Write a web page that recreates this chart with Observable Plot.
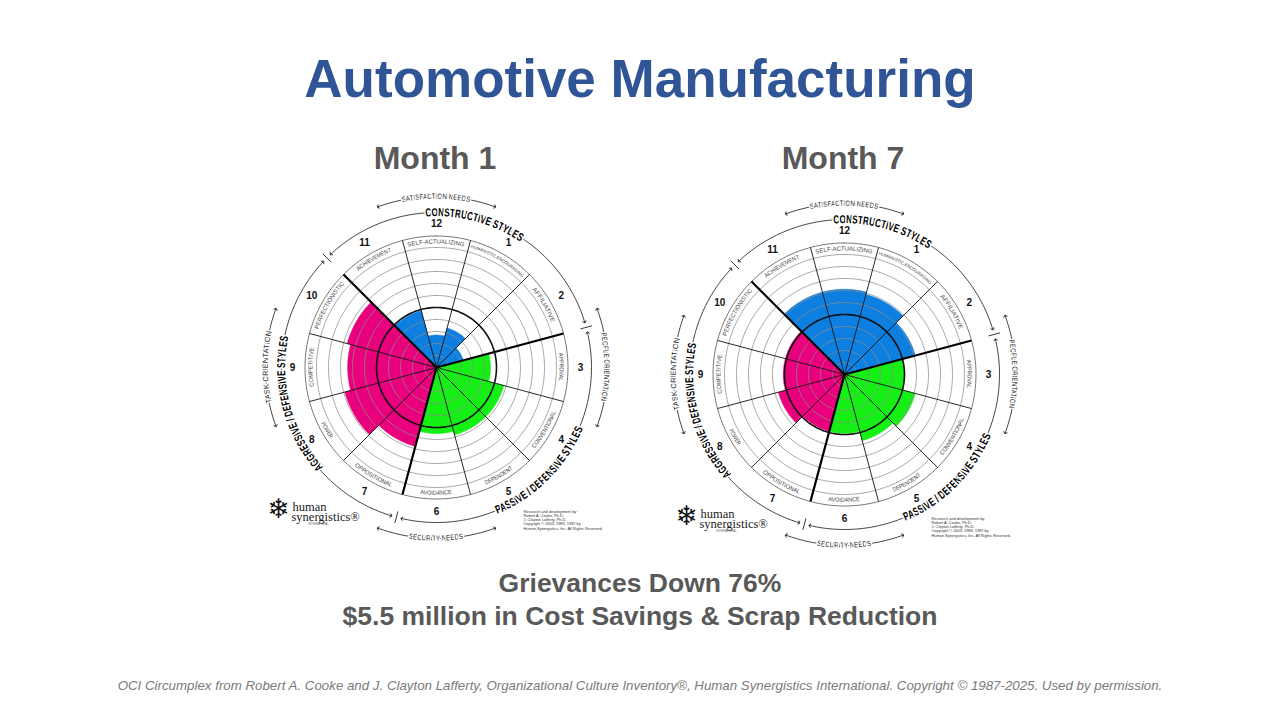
<!DOCTYPE html>
<html>
<head>
<meta charset="utf-8">
<script src="https://cdn.jsdelivr.net/npm/d3@7"></script>
<script src="https://cdn.jsdelivr.net/npm/@observablehq/plot@0.6"></script>
<style>
  html, body { margin: 0; padding: 0; background: #fff; }
  body { width: 1280px; height: 720px; position: relative; overflow: hidden; font-family: "Liberation Sans", Arial, sans-serif; }
  .t { position: absolute; white-space: nowrap; text-align: center; line-height: 1; }
  #title { left: 0; width: 1280px; top: 52px; font-size: 53px; font-weight: bold; color: #2F5597; }
  .month { width: 400px; top: 142px; font-size: 32px; font-weight: bold; color: #595959; }
  .cap { left: 0; width: 1280px; font-size: 26.5px; font-weight: bold; color: #595959; }
  #foot { left: 0; width: 1280px; top: 679px; font-size: 13.3px; font-style: italic; color: #7a7a7a; }
  #chart { position: absolute; left: 0; top: 180px; }
</style>
</head>
<body>
<div id="title" class="t">Automotive Manufacturing</div>
<div id="m1" class="t month" style="left:235px">Month 1</div>
<div id="m7" class="t month" style="left:643px">Month 7</div>
<div id="chart"></div>
<div id="cap1" class="t cap" style="top:570px">Grievances Down 76%</div>
<div id="cap2" class="t cap" style="top:603px">$5.5 million in Cost Savings &amp; Scrap Reduction</div>
<div id="foot" class="t">OCI Circumplex from Robert A. Cooke and J. Clayton Lafferty, Organizational Culture Inventory®, Human Synergistics International. Copyright © 1987-2025. Used by permission.</div>
<script>
// ---------------- DATA ----------------
const panels = ["Month 1", "Month 7"];
const styleNumbers = [1, 2, 3, 4, 5, 6, 7, 8, 9, 10, 11, 12];
const styleLabels = ["HUMANISTIC-ENCOURAGING", "AFFILIATIVE", "APPROVAL", "CONVENTIONAL", "DEPENDENT", "AVOIDANCE",
  "OPPOSITIONAL", "POWER", "COMPETITIVE", "PERFECTIONISTIC", "ACHIEVEMENT", "SELF-ACTUALIZING"];
const styleCluster = ["Constructive", "Constructive", "Passive/Defensive", "Passive/Defensive", "Passive/Defensive", "Passive/Defensive",
  "Aggressive/Defensive", "Aggressive/Defensive", "Aggressive/Defensive", "Aggressive/Defensive", "Constructive", "Constructive"];
// percentile scores per style (order of styleNumbers)
const month1Percentiles = [34, 23, 45, 58, 58, 55, 68, 79, 74, 77, 49, 27];
const month7Percentiles = [69, 61, 50, 61, 57, 49, 49, 57, 51, 51, 71, 71];
const ringPercentiles = [10, 20, 30, 40, 50, 60, 70, 80, 90, 99];
const clusterNames = ["Constructive", "Passive/Defensive", "Aggressive/Defensive"];
const clusterLabels = ["CONSTRUCTIVE STYLES", "PASSIVE / DEFENSIVE STYLES", "AGGRESSIVE / DEFENSIVE STYLES"];
const needsLabels = ["SATISFACTION NEEDS", "PEOPLE ORIENTATION", "SECURITY NEEDS", "TASK ORIENTATION"];
const copyrightLines = ["Research and development by:", "Robert A. Cooke, Ph.D.", "J. Clayton Lafferty, Ph.D.",
  "Copyright © 2003, 1989, 1987 by", "Human Synergistics, Inc. All Rights Reserved."];

// ---------------- LAYOUT ----------------
const W = 1280, TOP = 180, H = 385;
const centers = [{cx: 436, cy: 367}, {cx: 844, cy: 374}];
const clusterColors = {"Constructive": "#0d7fe0", "Passive/Defensive": "#16ef16", "Aggressive/Defensive": "#e8007d"};
const clusterCenterAngle = [15, 135, 255];
const clusterDir = ["cw", "ccw", "cw"];
const clusterTextLen = [100, 124, 140];
const needsAngle = [0, 90, 180, 270];
const needsDir = ["cw", "cw", "ccw", "cw"];
const needsTextLen = [68, 68, 55, 72];
const radius = d3.scaleLinear().domain([0, 90, 99]).range([0, 108, 120]);
const R_BAND_OUT = 131.5, R_NUM = 144, R_STYLE = 155, R_NEEDS = 171;

function polar(c, r, a) {
  const t = a * Math.PI / 180;
  return {x: c.cx + r * Math.sin(t), y: c.cy - r * Math.cos(t)};
}

// wedges
const wedgeRows = [];
panels.forEach((panel, pi) => {
  const vals = pi === 0 ? month1Percentiles : month7Percentiles;
  const c = centers[pi];
  styleNumbers.forEach((n, i) => {
    const r = radius(vals[i]);
    const key = panel + "-" + n, cluster = styleCluster[i];
    wedgeRows.push({key, cluster, x: c.cx, y: c.cy});
    for (let a = n * 30 - 15; a <= n * 30 + 15; a += 1) wedgeRows.push({key, cluster, ...polar(c, r, a)});
    wedgeRows.push({key, cluster, x: c.cx, y: c.cy});
  });
});

// rings
const ringRows = [];
panels.forEach((panel, pi) => {
  const c = centers[pi];
  ringPercentiles.forEach(p => {
    for (let a = 0; a <= 360; a += 2) ringRows.push({key: panel + p, p, ...polar(c, radius(p), a)});
  });
  for (let a = 0; a <= 360; a += 2) ringRows.push({key: panel + "band", p: -1, ...polar(c, R_BAND_OUT, a)});
});

// radial sector lines
const spokeRows = [];
panels.forEach((panel, pi) => {
  const c = centers[pi];
  for (let k = 0; k < 12; k++) {
    const a = k * 30 + 15;
    const e = polar(c, R_BAND_OUT, a);
    spokeRows.push({x1: c.cx, y1: c.cy, x2: e.x, y2: e.y, thick: (a === 75 || a === 195 || a === 315)});
  }
});

// numbers
const numberRows = [];
panels.forEach((panel, pi) => {
  styleNumbers.forEach(n => numberRows.push({text: String(n), ...polar(centers[pi], R_NUM, n * 30)}));
});

// outer arcs (cluster arcs & needs arcs), drawn as halves with arrow ends
const arcRows = [];
panels.forEach((panel, pi) => {
  const c = centers[pi];
  clusterCenterAngle.forEach((ac, j) => {
    [-1, 1].forEach(s => {
      const key = panel + "c" + j + s;
      for (let d = 0; d <= 58; d += 1) arcRows.push({key, ...polar(c, R_STYLE, ac + s * d)});
    });
  });
  needsAngle.forEach((ac, j) => {
    [-1, 1].forEach(s => {
      const key = panel + "n" + j + s;
      for (let d = 0; d <= 20; d += 1) arcRows.push({key, ...polar(c, R_NEEDS, ac + s * d)});
    });
  });
});
const tickRows = [];
panels.forEach((panel, pi) => {
  const c = centers[pi];
  [75, 195, 315].forEach(a => {
    const p1 = polar(c, R_STYLE - 6, a), p2 = polar(c, R_STYLE + 6, a);
    tickRows.push({x1: p1.x, y1: p1.y, x2: p2.x, y2: p2.y});
  });
});

// logo & copyright
const logoRows = [];
panels.forEach((panel, pi) => {
  const c = centers[pi];
  logoRows.push({kind: "snow", x: c.cx - 158, y: c.cy + 142, text: "❄"});
  logoRows.push({kind: "word", x: c.cx - 144, y: c.cy + 139.5, text: "human"});
  logoRows.push({kind: "word", x: c.cx - 145, y: c.cy + 149.5, text: "synergistics®"});
  logoRows.push({kind: "intl", x: c.cx - 118, y: c.cy + 157, text: "INTERNATIONAL"});
  logoRows.push({kind: "copy", x: c.cx + 87, y: c.cy + 142, text: copyrightLines.join("\n")});
});

const marks = [];
clusterNames.forEach(cl => {
  marks.push(Plot.line(wedgeRows.filter(d => d.cluster === cl),
    {x: "x", y: "y", z: "key", fill: clusterColors[cl], stroke: clusterColors[cl], strokeWidth: 0.6, curve: "linear"}));
});
marks.push(Plot.line(ringRows.filter(d => d.p !== 50 && d.p !== -1), {x: "x", y: "y", z: "key", stroke: "#8c8c8c", strokeWidth: 0.75}));
marks.push(Plot.line(ringRows.filter(d => d.p === -1), {x: "x", y: "y", z: "key", stroke: "#555", strokeWidth: 0.8}));
marks.push(Plot.line(ringRows.filter(d => d.p === 50), {x: "x", y: "y", z: "key", stroke: "#111", strokeWidth: 1.6}));
marks.push(Plot.link(spokeRows.filter(d => !d.thick), {x1: "x1", y1: "y1", x2: "x2", y2: "y2", stroke: "#111", strokeWidth: 0.9}));
marks.push(Plot.link(spokeRows.filter(d => d.thick), {x1: "x1", y1: "y1", x2: "x2", y2: "y2", stroke: "#000", strokeWidth: 2.2}));
marks.push(Plot.text(numberRows, {x: "x", y: "y", text: "text", fontSize: 10, fontWeight: "bold", fill: "#111", fontFamily: "Liberation Sans, Arial, sans-serif"}));
marks.push(Plot.line(arcRows, {x: "x", y: "y", z: "key", stroke: "#222", strokeWidth: 0.85, markerEnd: "arrow"}));
marks.push(Plot.link(tickRows, {x1: "x1", y1: "y1", x2: "x2", y2: "y2", stroke: "#222", strokeWidth: 0.9}));
marks.push(Plot.text(logoRows.filter(d => d.kind === "snow"), {x: "x", y: "y", text: "text", fontSize: 27, fill: "#111", fontFamily: "DejaVu Sans, sans-serif"}));
marks.push(Plot.text(logoRows.filter(d => d.kind === "word"), {x: "x", y: "y", text: "text", fontSize: 12.5, fill: "#1a1a1a", textAnchor: "start", fontFamily: "Liberation Serif, DejaVu Serif, serif"}));
marks.push(Plot.text(logoRows.filter(d => d.kind === "intl"), {x: "x", y: "y", text: "text", fontSize: 2.6, fill: "#666", fontFamily: "Liberation Sans, sans-serif"}));
marks.push(Plot.text(logoRows.filter(d => d.kind === "copy"), {x: "x", y: "y", text: "text", fontSize: 3.9, lineHeight: 1.1, fill: "#333", textAnchor: "start", lineAnchor: "top", fontFamily: "Liberation Sans, sans-serif"}));

const plot = Plot.plot({
  width: W, height: H,
  margin: 0, marginTop: 0, marginRight: 0, marginBottom: 0, marginLeft: 0,
  x: {domain: [0, W], range: [0, W], axis: null},
  y: {domain: [TOP, TOP + H], range: [0, H], axis: null},
  style: {background: "transparent", overflow: "visible"},
  marks
});
document.getElementById("chart").appendChild(plot);

// ---------------- curved labels (textPath positioned through the plot scales) ----------------
const sx = plot.scale("x"), sy = plot.scale("y");
const svg = d3.select(plot);
const defs = svg.append("defs");
const labelLayer = svg.append("g").attr("class", "arc-labels");
let pathId = 0;
function arcText(c, r, ac, dir, text, opts) {
  const fs = opts.fontSize;
  const rp = dir === "cw" ? r - 0.36 * fs : r + 0.36 * fs;
  const a0 = dir === "cw" ? ac - 85 : ac + 85;
  const a1 = dir === "cw" ? ac + 85 : ac - 85;
  const p0 = polar(c, rp, a0), p1 = polar(c, rp, a1);
  const id = "arcp" + (pathId++);
  defs.append("path").attr("id", id)
    .attr("d", `M${sx.apply(p0.x)},${sy.apply(p0.y)} A${rp},${rp} 0 0 ${dir === "cw" ? 1 : 0} ${sx.apply(p1.x)},${sy.apply(p1.y)}`);
  const t = labelLayer.append("text")
    .attr("font-size", fs)
    .attr("font-family", opts.fontFamily || "Liberation Sans, Arial, sans-serif")
    .attr("font-weight", opts.fontWeight || "normal")
    .attr("fill", opts.fill || "#111");
  if (opts.halo) t.attr("stroke", "#fff").attr("stroke-width", opts.halo).attr("paint-order", "stroke").attr("stroke-linejoin", "round");
  const tp = t.append("textPath").attr("href", "#" + id).attr("startOffset", "50%").attr("text-anchor", "middle").text(text);
  if (opts.textLength) tp.attr("textLength", opts.textLength).attr("lengthAdjust", "spacingAndGlyphs");
}

panels.forEach((panel, pi) => {
  const c = centers[pi];
  styleNumbers.forEach((n, i) => {
    const a = n * 30;
    const dir = (a > 90 && a < 270) ? "ccw" : "cw";
    const lab = styleLabels[i];
    const long = lab.length > 16;
    arcText(c, 125.7, a, dir, lab, {fontSize: long ? 4.4 : 6, fill: "#444", textLength: long ? 60 : lab.length * 3.55});
  });
  clusterLabels.forEach((lab, j) => {
    arcText(c, R_STYLE, clusterCenterAngle[j], clusterDir[j], lab,
      {fontSize: 11.5, fontWeight: "bold", fill: "#000", halo: 4, textLength: clusterTextLen[j]});
  });
  needsLabels.forEach((lab, j) => {
    arcText(c, R_NEEDS, needsAngle[j], needsDir[j], lab,
      {fontSize: 7.5, fill: "#222", halo: 3, textLength: needsTextLen[j]});
  });
});
</script>
</body>
</html>
